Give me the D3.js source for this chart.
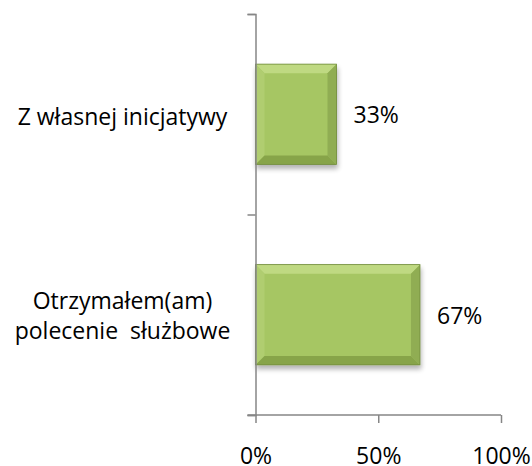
<!DOCTYPE html>
<html>
<head>
<meta charset="utf-8">
<script src="https://cdn.jsdelivr.net/npm/d3@7"></script>
<style>
  body { margin: 0; background: #fff; }
  svg text { font-family: "Open Sans", sans-serif; fill: #000; }
</style>
</head>
<body>
<svg width="532" height="466"></svg>
<script>
const categories = [["Z własnej inicjatywy"], ["Otrzymałem(am)", "polecenie  służbowe"]];
const values = [0.33, 0.67];
const valueLabels = ["33%", "67%"];
const xTicks = [0, 0.5, 1];

const svg = d3.select("svg");
const margin = {top: 14, left: 255.5, right: 31, bottom: 51};
const width = +svg.attr("width");
const height = +svg.attr("height");
const innerWidth = width - margin.left - margin.right;
const innerHeight = height - margin.top - margin.bottom;
const fontSize = 23;

const defs = svg.append("defs");
const shadow = defs.append("filter").attr("id", "shadow")
  .attr("x", "-10%").attr("y", "-10%").attr("width", "130%").attr("height", "130%");
shadow.append("feGaussianBlur").attr("in", "SourceAlpha").attr("stdDeviation", 2.5);
shadow.append("feOffset").attr("dx", 1).attr("dy", 4).attr("result", "off");
shadow.append("feComponentTransfer").append("feFuncA").attr("type", "linear").attr("slope", 0.3);
const merge = shadow.append("feMerge");
merge.append("feMergeNode");
merge.append("feMergeNode").attr("in", "SourceGraphic");

const g = svg.append("g").attr("transform", `translate(${margin.left},${margin.top})`);

const yScale = d3.scaleBand()
  .domain(d3.range(categories.length))
  .range([0, innerHeight])
  .paddingInner(0.5)
  .paddingOuter(0.25);

const xScale = d3.scaleLinear()
  .domain([0, 1])
  .range([0, innerWidth]);

// category boundaries for the tick marks on the vertical axis
const yEdge = d3.scaleLinear().domain([0, categories.length]).range([0, innerHeight]);

// bars with bevel
const bevel = 9;
const bars = g.selectAll(".bar")
  .data(values)
  .enter().append("g")
  .attr("class", "bar")
  .attr("filter", "url(#shadow)");

bars.append("rect")
  .attr("x", 0)
  .attr("y", (d, i) => yScale(i))
  .attr("width", d => xScale(d))
  .attr("height", yScale.bandwidth())
  .attr("fill", "#a6c663");

bars.each(function(d, i) {
  const x0 = 0, x1 = xScale(d);
  const y0 = yScale(i), y1 = y0 + yScale.bandwidth();
  const b = bevel;
  const sel = d3.select(this);
  const pts = p => p.map(q => q.join(",")).join(" ");
  sel.append("polygon").attr("points", pts([[x0, y0], [x1, y0], [x1 - b, y0 + b], [x0 + b, y0 + b]])).attr("fill", "#bfd982");
  sel.append("polygon").attr("points", pts([[x0, y0], [x0 + b, y0 + b], [x0 + b, y1 - b], [x0, y1]])).attr("fill", "#b0cd70");
  sel.append("polygon").attr("points", pts([[x1, y0], [x1, y1], [x1 - b, y1 - b], [x1 - b, y0 + b]])).attr("fill", "#90ad52");
  sel.append("polygon").attr("points", pts([[x0, y1], [x0 + b, y1 - b], [x1 - b, y1 - b], [x1, y1]])).attr("fill", "#87a44a");
  sel.append("rect").attr("x", x0).attr("y", y0).attr("width", x1 - x0).attr("height", y1 - y0)
    .attr("fill", "none").attr("stroke", "#718c3c").attr("stroke-width", 0.8);
});

// value labels
g.selectAll(".val")
  .data(values)
  .enter().append("text")
  .attr("class", "val")
  .attr("x", d => xScale(d) + 17)
  .attr("y", (d, i) => yScale(i) + yScale.bandwidth() / 2)
  .attr("dy", "0.39em")
  .style("font-size", fontSize + "px")
  .text((d, i) => valueLabels[i]);

// vertical axis
const yAxis = d3.axisLeft(yEdge).tickValues(d3.range(categories.length + 1)).tickSize(8).tickFormat("");
const yAxisG = g.append("g").call(yAxis);
yAxisG.select(".domain").attr("stroke", "#868686").attr("stroke-width", 1.5);
yAxisG.selectAll(".tick line").attr("stroke", "#868686").attr("stroke-width", 1.5);

// category labels
const catLabels = g.selectAll(".cat")
  .data(categories)
  .enter().append("text")
  .attr("class", "cat")
  .attr("text-anchor", "middle")
  .attr("x", -133)
  .attr("y", (d, i) => yScale(i) + yScale.bandwidth() / 2)
  .style("font-size", fontSize + "px");
catLabels.each(function(lines) {
  const t = d3.select(this);
  lines.forEach((line, j) => {
    t.append("tspan")
      .attr("x", -133)
      .attr("dy", j === 0 ? (lines.length === 1 ? "0.46em" : "-0.26em") : "1.3em")
      .style("white-space", "pre")
      .text(line);
  });
});

// horizontal axis
const xAxis = d3.axisBottom(xScale).tickValues(xTicks).tickSize(8).tickPadding(25).tickFormat(d3.format(".0%"));
const xAxisG = g.append("g").attr("transform", `translate(0,${innerHeight})`).call(xAxis);
xAxisG.select(".domain").attr("d", `M-8,0H${innerWidth}`).attr("stroke", "#868686").attr("stroke-width", 1.5);
xAxisG.selectAll(".tick line").attr("stroke", "#868686").attr("stroke-width", 1.5);
xAxisG.selectAll(".tick text").style("font-size", fontSize + "px").style("font-family", "'Open Sans', sans-serif").attr("fill", "#000");
</script>
</body>
</html>
